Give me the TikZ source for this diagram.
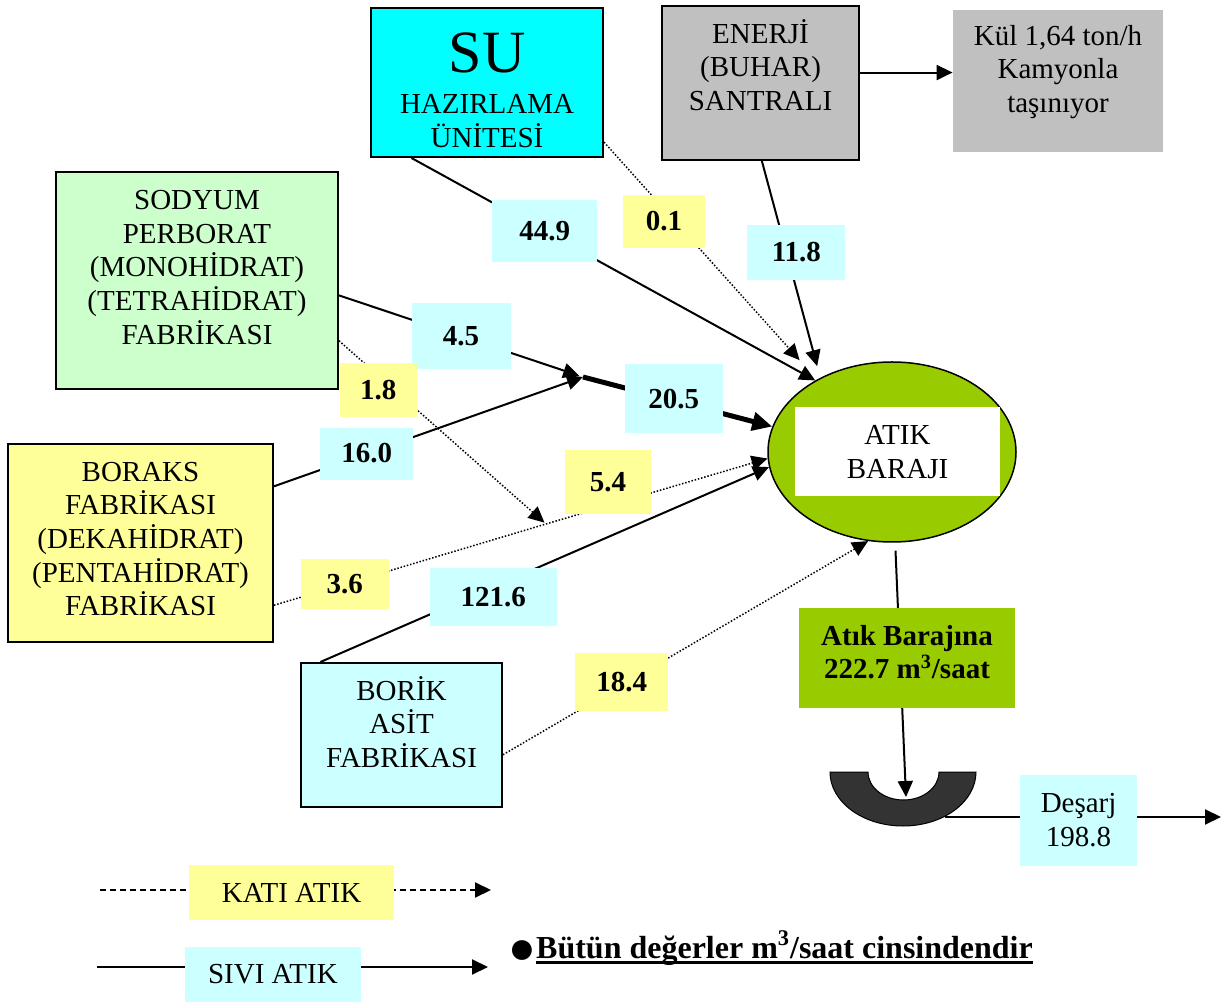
\documentclass[tikz,border=0pt]{standalone}
\usepackage{fontspec}
\setmainfont{Liberation Serif}
\usetikzlibrary{shapes.geometric,arrows.meta}

\definecolor{suCyan}{RGB}{0,255,255}
\definecolor{ashGray}{RGB}{192,192,192}
\definecolor{paleGreen}{RGB}{204,255,204}
\definecolor{paleYellow}{RGB}{255,255,153}
\definecolor{paleCyan}{RGB}{204,255,255}
\definecolor{damGreen}{RGB}{153,204,0}
\definecolor{bowlGray}{RGB}{51,51,51}

\newcommand{\boxfont}{\fontsize{14.5}{16.8}\selectfont}
\newsavebox{\notebox}
\newcommand{\thickul}[1]{\sbox{\notebox}{#1}\rlap{\vrule height -1.4pt depth 2.9pt width \wd\notebox}\usebox{\notebox}}

\begin{document}
\begin{tikzpicture}[x=0.5pt,y=-0.5pt,
  plant/.style={draw=black,line width=1pt,inner sep=0pt},
  txt/.style={align=center,font=\boxfont},
  liq/.style={fill=paleCyan,inner sep=0pt,minimum width=49pt,minimum height=29pt,font=\boxfont\bfseries},
  sol/.style={liq,fill=paleYellow},
  flow/.style={line width=1pt,-{Triangle[length=8pt,width=7.5pt]}},
  dotflow/.style={flow,line width=0.75pt,dash pattern=on 0.75pt off 0.9pt}]
\useasboundingbox (0,0) rectangle (1231,1004);

% units
\node[plant,fill=suCyan,minimum width=116pt,minimum height=74.5pt,
  label={[name=su-txt,txt,yshift=-3.75pt]center:{{\fontsize{30}{30}\selectfont SU}\\[4pt]HAZIRLAMA\\ÜNİTESİ}}] (su) at (487,82.5) {};
\node[plant,fill=ashGray,minimum width=98.5pt,minimum height=77pt,
  label={[name=enerji-txt,txt,yshift=9pt]center:{ENERJİ\\(BUHAR)\\SANTRALI}}] (enerji) at (760.5,83) {};
\node[fill=ashGray,inner sep=0pt,minimum width=105pt,minimum height=71pt,
  label={[name=kul-txt,txt,yshift=4.5pt]center:{Kül 1,64 ton/h\\Kamyonla\\taşınıyor}}] (kul) at (1058,81) {};
\node[plant,fill=paleGreen,minimum width=141pt,minimum height=108.5pt,
  label={[name=sodyum-txt,txt,yshift=6.5pt]center:{SODYUM\\PERBORAT\\(MONOHİDRAT)\\(TETRAHİDRAT)\\FABRİKASI}}] (sodyum) at (197,280.5) {};
\node[plant,fill=paleYellow,minimum width=132.5pt,minimum height=99pt,
  label={[name=boraks-txt,txt,yshift=2pt]center:{BORAKS\\FABRİKASI\\(DEKAHİDRAT)\\(PENTAHİDRAT)\\FABRİKASI}}] (boraks) at (140.5,543) {};
\node[plant,fill=paleCyan,minimum width=100.5pt,minimum height=72pt,
  label={[name=borik-txt,txt,yshift=6.5pt]center:{BORİK\\ASİT\\FABRİKASI}}] (borik) at (401.5,735) {};
\node[ellipse,draw=black,line width=0.75pt,fill=damGreen,minimum width=124pt,minimum height=90pt,inner sep=0pt,
  label={[name=baraj-txt,txt,fill=white,minimum width=102.5pt,minimum height=44.5pt,xshift=2.75pt]center:{ATIK\\BARAJI}}] (baraj) at (892,452) {};

\coordinate (merge) at (583,377);
\coordinate (mix) at (546,524);

% flows into the dam
\draw[flow] (su.225) -- node[liq,pos=0.33,minimum width=52.5pt,minimum height=31pt] (l449) {44.9} (baraj.137);
\draw[dotflow,shorten >=13pt] (su.-27) -- node[sol,pos=0.3,xshift=-2pt,yshift=-4pt,minimum width=41pt,minimum height=26.5pt] (l01) {0.1} (baraj.136);
\draw[flow,shorten >=6pt] (enerji.-89) -- node[liq,pos=0.42,xshift=5pt,minimum height=27.5pt] (l118) {11.8} (baraj.134);
\draw[flow] (enerji.6) -- (enerji.6 -| kul.west);
\draw[flow,shorten >=2pt] (sodyum.-6) -- node[liq,pos=0.5,minimum width=49.5pt,minimum height=33pt] (l45) {4.5} (merge);
\draw[flow] (boraks.23) -- node[liq,pos=0.3,minimum width=46.5pt,minimum height=26pt] (l160) {16.0} (merge);
\draw[flow,line width=2.5pt,-{Triangle[length=10pt,width=9pt]}] (merge) -- node[liq,pos=0.48,yshift=1pt,minimum height=34.5pt] (l205) {20.5} (baraj.168);
\draw[dotflow,shorten >=1pt] (sodyum.-23) -- node[sol,pos=0.19,yshift=-7pt,minimum width=38.5pt,minimum height=27pt] (l18) {1.8} (mix);
\draw[dotflow] (boraks.-25) -- node[sol,pos=0.26,minimum width=44pt,minimum height=25pt] (l36) {3.6} (mix)
  -- node[sol,pos=0.28,yshift=12pt,minimum width=43pt,minimum height=32pt] (l54) {5.4} (baraj.183);
\draw[flow] (borik.138) -- node[liq,pos=0.385,yshift=-5pt,minimum width=63.5pt] (l1216) {121.6} (baraj.187);
\draw[dotflow] (borik.-11) -- node[sol,pos=0.325,yshift=1.5pt,minimum width=46.5pt] (l184) {18.4} (baraj.255);

% out of the dam
\coordinate (bowlin) at (906,797);
\draw[flow,shorten <=4pt] (baraj.-88) -- (bowlin);
\node[fill=damGreen,inner sep=0pt,minimum width=108pt,minimum height=50pt,
  label={[name=toplam-txt,txt,font=\boxfont\bfseries,yshift=3pt]center:{Atık Barajına\\222.7 m\textsuperscript{3}/saat}}] (toplam) at (907,658) {};
\fill[bowlGray,draw=black,line width=0.5pt] (830,772) arc[start angle=180,end angle=0,x radius=73,y radius=54]
  -- (939,772) arc[start angle=0,end angle=180,x radius=35.5,y radius=28] -- cycle;
\coordinate (bowlout) at (945,817);
\coordinate (out) at (1221,817);
\draw[flow] (bowlout) -- node[txt,fill=paleCyan,inner sep=0pt,minimum width=58.5pt,minimum height=45.5pt,pos=0.484,yshift=-1.5pt] (desarj) {Deşarj\\198.8} (out);

% legend
\coordinate (k0) at (100,890);
\coordinate (k1) at (491,890);
\coordinate (s0) at (97,967);
\coordinate (s1) at (488,967);
\draw[flow,dash pattern=on 3pt off 2pt] (k0) -- node[txt,fill=paleYellow,inner sep=0pt,minimum width=102.5pt,minimum height=27.5pt,pos=0.49,yshift=-1.25pt] (kati) {KATI ATIK} (k1);
\draw[flow] (s0) -- node[txt,fill=paleCyan,inner sep=0pt,minimum width=88pt,minimum height=27.5pt,pos=0.45,yshift=-3.75pt] (sivi) {SIVI ATIK} (s1);
\node[anchor=base west,inner sep=0pt,font=\fontsize{16}{18}\selectfont\bfseries] (note) at (508,958)
  {\raisebox{-2.5pt}{\fontsize{23}{23}\selectfont●}\thickul{Bütün değerler m\textsuperscript{3}/saat cinsindendir}};
\end{tikzpicture}
\end{document}
